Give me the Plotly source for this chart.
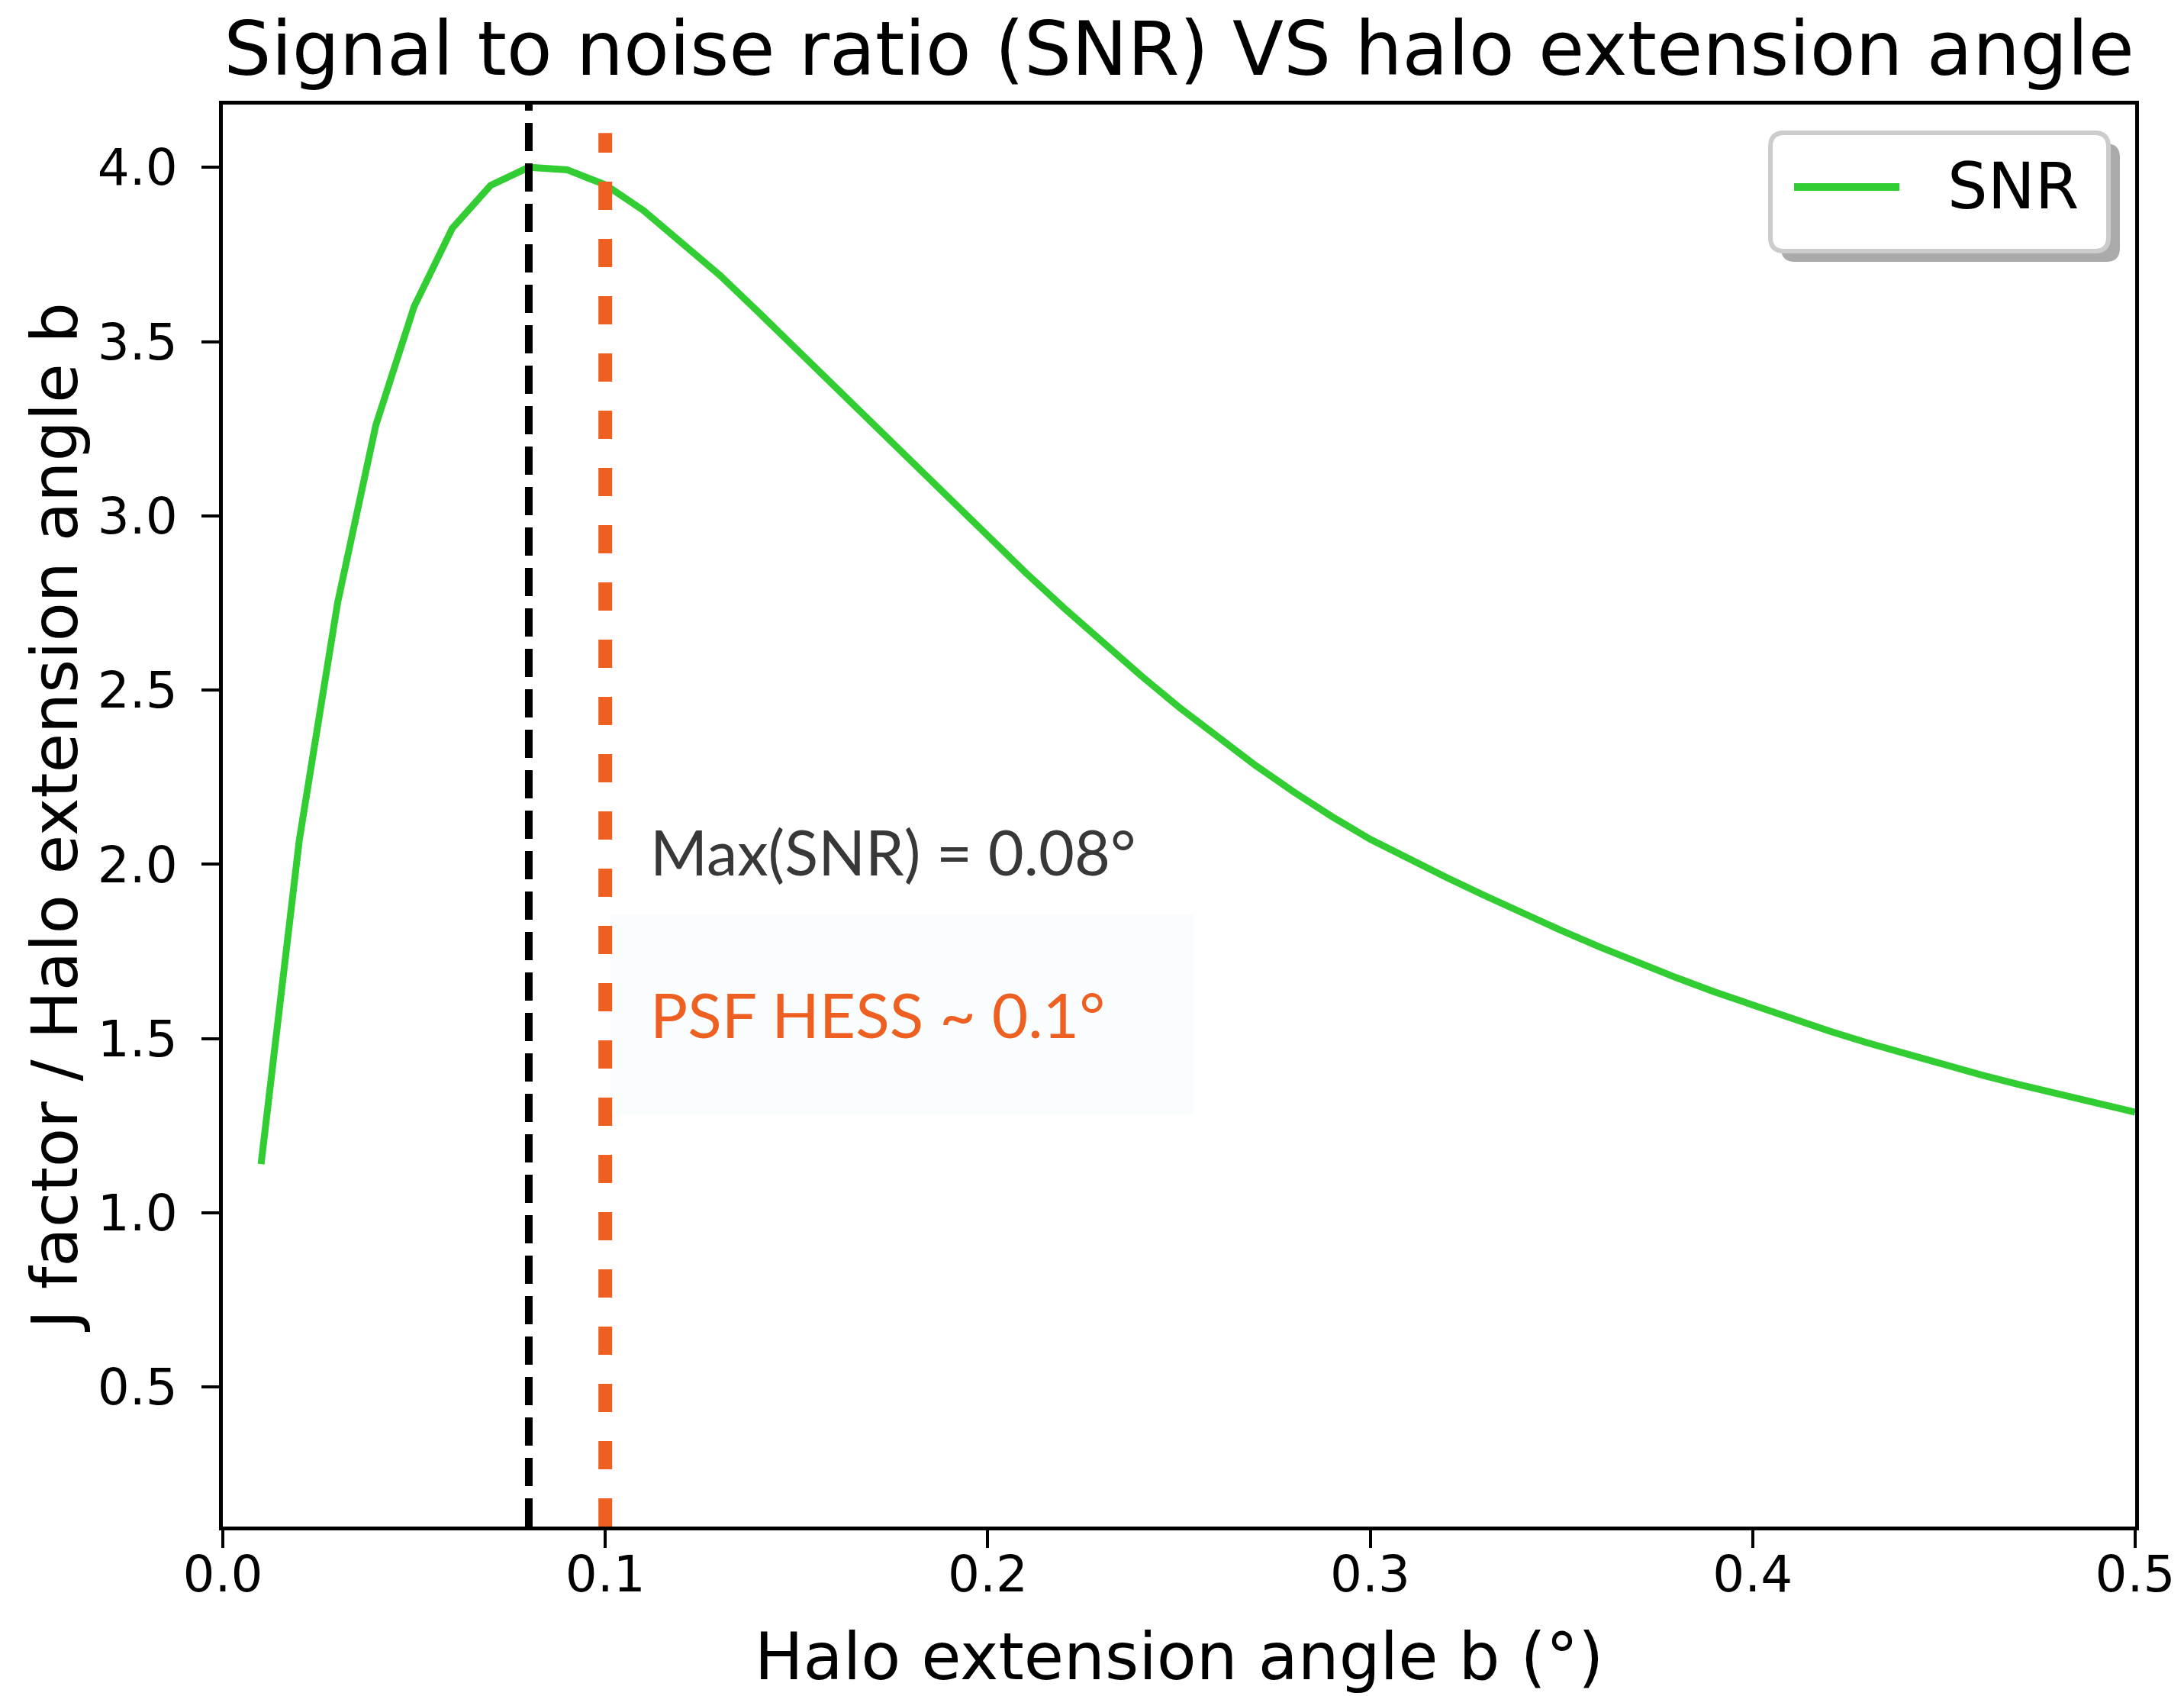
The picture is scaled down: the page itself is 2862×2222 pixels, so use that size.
import plotly.graph_objects as go

# ---------------- data ----------------
halo_angle = [0.01, 0.02, 0.03, 0.04, 0.05, 0.06, 0.07, 0.08, 0.09, 0.10,
              0.11, 0.12, 0.13, 0.14, 0.15, 0.16, 0.17, 0.18, 0.19, 0.20,
              0.21, 0.22, 0.23, 0.24, 0.25, 0.26, 0.27, 0.28, 0.29, 0.30,
              0.31, 0.32, 0.33, 0.34, 0.35, 0.36, 0.37, 0.38, 0.39, 0.40,
              0.41, 0.42, 0.43, 0.44, 0.45, 0.46, 0.47, 0.48, 0.49, 0.50]
snr = [1.14, 2.07, 2.75, 3.26, 3.60, 3.825, 3.948, 4.000, 3.993, 3.950,
       3.876, 3.786, 3.690, 3.585, 3.478, 3.370, 3.262, 3.155, 3.047, 2.940,
       2.836, 2.735, 2.637, 2.542, 2.451, 2.365, 2.284, 2.208, 2.137, 2.072,
       2.016, 1.962, 1.910, 1.859, 1.810, 1.763, 1.718, 1.675, 1.634, 1.595,
       1.558, 1.522, 1.488, 1.456, 1.425, 1.395, 1.367, 1.340, 1.314, 1.289]
max_snr_angle = 0.08
psf_hess = 0.1
x_ticks = [0.0, 0.1, 0.2, 0.3, 0.4, 0.5]
y_ticks = [0.5, 1.0, 1.5, 2.0, 2.5, 3.0, 3.5, 4.0]
series_name = "SNR"
title_text = "Signal to noise ratio (SNR) VS halo extension angle"
x_title = "Halo extension angle b (°)"
y_title = "J factor / Halo extension angle b"
note_max = "Max(SNR) = 0.08°"
note_psf = "PSF HESS ~ 0.1°"

# ---------------- style / layout ----------------
W, H = 2862, 2222
ML, MR, MT, MB = 292, 64, 137, 222
PW, PH = W - ML - MR, H - MT - MB
GREEN = "#32CD32"
ORANGE = "#EE6022"
DARK = "#383838"
FONT = "DejaVu Sans"


def px_x(X):
    return (X - ML) / PW


def px_y(Y):
    return (H - MB - Y) / PH


def rrect(x0, y0, x1, y1, r):
    # x0..x1, y0..y1 in pixel coords of the page -> paper coords
    a, b = px_x(x0), px_x(x1)
    top, bot = px_y(y0), px_y(y1)
    rx, ry = r / PW, r / PH
    return (f"M{a+rx},{top} L{b-rx},{top} Q{b},{top} {b},{top-ry} "
            f"L{b},{bot+ry} Q{b},{bot} {b-rx},{bot} L{a+rx},{bot} "
            f"Q{a},{bot} {a},{bot+ry} L{a},{top-ry} Q{a},{top} {a+rx},{top} Z")


fig = go.Figure()
fig.add_trace(go.Scatter(x=halo_angle, y=snr, mode="lines", name=series_name,
                         line=dict(color=GREEN, width=9), showlegend=False))

shapes = [
    # faint background behind the notes
    dict(type="rect", xref="paper", yref="paper", layer="below",
         x0=px_x(800), x1=px_x(1564), y0=px_y(1460), y1=px_y(1198),
         fillcolor="#f9fdfe", line=dict(width=0)),
    # vertical reference lines
    dict(type="line", xref="x", yref="paper", x0=max_snr_angle, x1=max_snr_angle,
         y0=0, y1=1, layer="above", line=dict(color="black", width=10, dash="37px,16px")),
    dict(type="line", xref="x", yref="paper", x0=psf_hess, x1=psf_hess,
         y0=0, y1=0.98, layer="above", line=dict(color=ORANGE, width=18, dash="37px,38px")),
    # legend shadow + frame
    dict(type="path", xref="paper", yref="paper", layer="above",
         path=rrect(2334, 188, 2778, 343, 18), fillcolor="#aaaaaa", line=dict(width=0)),
    dict(type="path", xref="paper", yref="paper", layer="above",
         path=rrect(2320, 174, 2763, 329, 18), fillcolor="white",
         line=dict(color="#cccccc", width=6)),
    # legend sample line
    dict(type="line", xref="paper", yref="paper", layer="above",
         x0=px_x(2351), x1=px_x(2489), y0=px_y(245), y1=px_y(245),
         line=dict(color=GREEN, width=10)),
]

annotations = [
    dict(text=series_name, xref="paper", yref="paper", x=px_x(2550), y=px_y(244),
         xanchor="left", yanchor="middle", showarrow=False,
         font=dict(family=FONT, size=83, color="black")),
    dict(text=note_max, xref="paper", yref="paper", x=px_x(850), y=px_y(1115),
         xanchor="left", yanchor="middle", showarrow=False,
         font=dict(family="Lato", size=81, color=DARK)),
    dict(text=note_psf, xref="paper", yref="paper", x=px_x(850), y=px_y(1328),
         xanchor="left", yanchor="middle", showarrow=False,
         font=dict(family="Lato", size=82, color=ORANGE)),
]

axis_common = dict(showline=True, linecolor="black", linewidth=5, mirror=True,
                   ticks="outside", ticklen=23, tickwidth=4, tickcolor="black",
                   showgrid=False, zeroline=False,
                   tickfont=dict(family=FONT, size=66, color="black"))

fig.update_layout(
    width=W, height=H,
    margin=dict(l=ML, r=MR, t=MT, b=MB, autoexpand=False),
    paper_bgcolor="white", plot_bgcolor="white",
    showlegend=False,
    title=dict(text=title_text, x=0.5, xref="paper", xanchor="center",
               y=1 - 64 / H, yref="container", yanchor="middle",
               font=dict(family=FONT, size=98, color="black")),
    xaxis=dict(range=[0, 0.5], tickvals=x_ticks, tickformat=".1f",
               ticklabelstandoff=-22,
               title=dict(text=x_title, standoff=42,
                          font=dict(family=FONT, size=85, color="black")),
               **axis_common),
    yaxis=dict(range=[0.1, 4.18], tickvals=y_ticks, tickformat=".1f",
               ticklabelstandoff=18,
               title=dict(text=y_title, standoff=0,
                          font=dict(family=FONT, size=84, color="black")),
               **axis_common),
    shapes=shapes,
    annotations=annotations,
)

fig.write_html("out.html")
